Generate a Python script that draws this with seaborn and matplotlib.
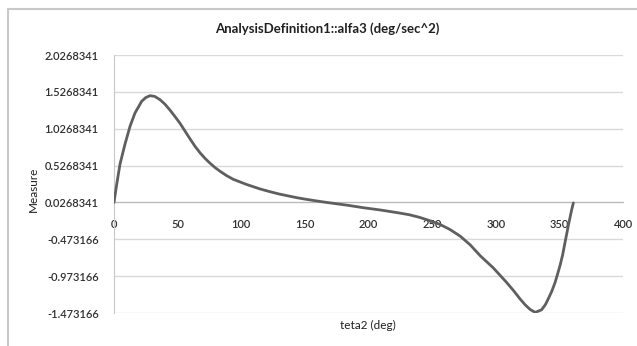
import matplotlib
matplotlib.use("Agg")
import matplotlib.pyplot as plt
import seaborn as sns
import pandas as pd
from matplotlib.lines import Line2D

# values
teta2 = [0, 2.1, 4.7, 8.6, 12.6, 16.5, 21.8, 25, 28.3, 32, 36.2, 40, 44,
         48, 51.9, 55.8, 59.7, 63.6, 67.6, 71.5, 75.4, 79.4, 83.3, 88.5,
         93.8, 99, 104.3, 109.5, 114.7, 122, 130, 137, 144, 150, 157, 163,
         170, 183, 196, 209, 222, 232, 240, 248, 256, 264, 272, 280, 288,
         298, 308.6, 314, 319, 323, 327, 331, 336, 339, 341.3, 344, 346.6,
         348.5, 350.5, 352.5, 354.4, 357, 359.7, 361]
alfa3 = [0.027, 0.27, 0.545, 0.815, 1.06, 1.24, 1.40, 1.45, 1.475, 1.465,
         1.42, 1.36, 1.28, 1.19, 1.10, 0.995, 0.89, 0.79, 0.70, 0.625,
         0.56, 0.5, 0.45, 0.39, 0.34, 0.305, 0.27, 0.24, 0.21, 0.175, 0.14,
         0.115, 0.09, 0.072, 0.053, 0.037, 0.02, -0.01, -0.045, -0.075,
         -0.11, -0.14, -0.175, -0.22, -0.27, -0.34, -0.43, -0.55, -0.70,
         -0.86, -1.06, -1.17, -1.28, -1.36, -1.425, -1.465, -1.43, -1.36,
         -1.28, -1.18, -1.06, -0.95, -0.83, -0.69, -0.52, -0.29, -0.07, 0.02]

y_ticks = [2.0268341, 1.5268341, 1.0268341, 0.5268341, 0.0268341,
           -0.473166, -0.973166, -1.473166]
y_labels = ["2.0268341", "1.5268341", "1.0268341", "0.5268341", "0.0268341",
            "-0.473166", "-0.973166", "-1.473166"]
x_ticks = [0, 50, 100, 150, 200, 250, 300, 350, 400]

df = pd.DataFrame({"teta2": teta2, "alfa3": alfa3})

sns.set_style("white")
plt.rcParams["font.family"] = ["Lato", "DejaVu Sans"]

fig = plt.figure(figsize=(6.37, 3.46), dpi=100)
ax = fig.add_axes([114 / 637, 1 - 313 / 346, (623 - 114) / 637, (313 - 55) / 346])

for yv in y_ticks:
    ax.axhline(yv, color="#d9d9d9", lw=1.0, zorder=0)

sns.lineplot(data=df, x="teta2", y="alfa3", ax=ax, color="#5f5f5f", lw=2.0,
             zorder=3)

ax.set_xlim(0, 400)
ax.set_ylim(-1.473166, 2.0268341)
ax.set_yticks(y_ticks)
ax.set_yticklabels(y_labels)
ax.set_xticks(x_ticks)
ax.set_xticklabels([str(v) for v in x_ticks])

for s in ["top", "right"]:
    ax.spines[s].set_visible(False)
ax.spines["left"].set_color("#c8c8c8")
ax.spines["bottom"].set_color("#b8b8b8")
ax.spines["bottom"].set_position(("data", 0.0268341))
ax.spines["bottom"].set_zorder(1)

ax.tick_params(axis="y", length=0, pad=11, labelsize=8, labelcolor="#303030")
ax.tick_params(axis="x", direction="in", length=4, width=0.8, color="#b8b8b8",
               pad=12, labelsize=8, labelcolor="#303030")
for lab in ax.get_xticklabels() + ax.get_yticklabels():
    lab.set_fontweight("semibold")

ax.set_xlabel("")
ax.set_ylabel("")
fig.text(368 / 637, 1 - 325 / 346, "teta2 (deg)", ha="center", va="center",
         fontsize=8.5, color="#202020")
fig.text(33 / 637, 1 - 189 / 346, "Measure", ha="center", va="center",
         rotation=90, fontsize=8.5, color="#202020")
fig.text(327 / 637, 1 - 29 / 346, "AnalysisDefinition1::alfa3 (deg/sec^2)",
         ha="center", va="center", fontsize=9.5, fontweight="bold", color="#202020")

# outer chart frame (top and left edges visible in the reference)
fig.add_artist(Line2D([8 / 637, 1.0], [1 - 9 / 346, 1 - 9 / 346],
                      transform=fig.transFigure, color="#c8c8c8", lw=1.5))
fig.add_artist(Line2D([8 / 637, 8 / 637], [0, 1 - 9 / 346],
                      transform=fig.transFigure, color="#c8c8c8", lw=1.5))

fig.savefig("out.png", dpi=100)
